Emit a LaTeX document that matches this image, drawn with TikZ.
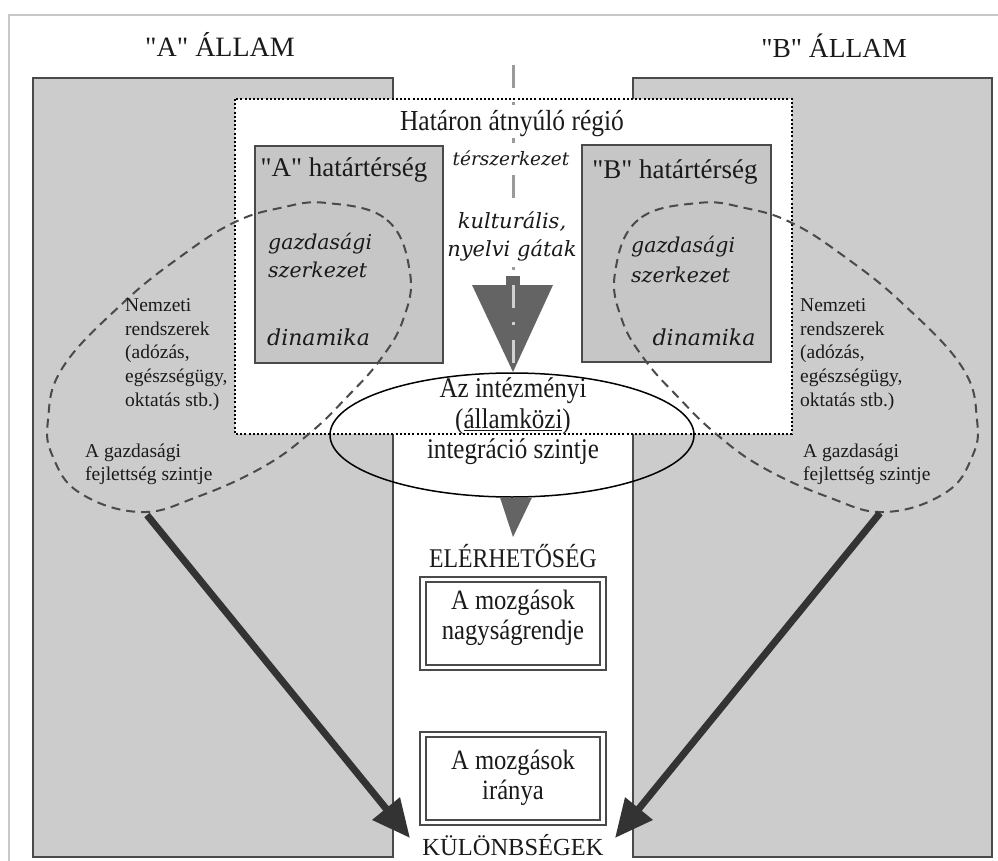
\documentclass[tikz,border=0pt]{standalone}
\usepackage{fontspec}
\setmainfont{Liberation Serif}[Ligatures=TeXOff]
\newfontfamily\cond{Liberation Serif}[Ligatures=TeXOff,FakeStretch=0.88]
\newfontfamily\itf{DejaVu Serif}[Ligatures=TeXOff]
\usetikzlibrary{arrows.meta,shapes.geometric}
\definecolor{stategray}{HTML}{CCCCCC}
\definecolor{boxgray}{HTML}{C6C6C6}
\definecolor{framegray}{HTML}{C8C8C8}
\definecolor{edgec}{HTML}{4A4A4A}
\definecolor{trigray}{HTML}{646464}
\definecolor{dashc}{HTML}{9A9A9A}
\definecolor{dashin}{HTML}{D0D0D0}
\definecolor{arrowc}{HTML}{333333}
\definecolor{txtc}{HTML}{1A1A1A}
\begin{document}
\begin{tikzpicture}[x=1pt,y=-1pt,
  edge/.style={draw=edgec,line width=2.5pt},
  dotborder/.style={draw=black,line width=2.5pt,dash pattern=on 2pt off 2.2pt},
  hbox/.style={fill=boxgray,draw=edgec,line width=2pt,inner sep=0pt},
  dblbox/.style={fill=white,draw=edgec,line width=2pt,inner sep=0pt,minimum width=186pt,minimum height=93pt},
  region/.style={draw=edgec,line width=2pt,dash pattern=on 9pt off 6pt},
  centerdash/.style={line width=3pt,dash pattern=on 23pt off 14pt on 3pt off 15pt},
  bigarrow/.style={draw=arrowc,line width=7pt,-{Triangle[length=38pt,width=34pt]}},
  txt/.style={inner sep=0pt,text=txtc,align=center},
  wtxt/.style={inner sep=1pt,fill=white,text=txtc,align=center},
  ltxt/.style={inner sep=0pt,text=txtc,align=left,anchor=west},
  every node/.append style={text=txtc}]
\useasboundingbox (0,0) rectangle (998,861);
\fill[white] (0,0) rectangle (998,861);
\draw[framegray,line width=2pt] (9,15) rectangle (1010,875);
% state areas
\fill[stategray] (33,78) rectangle (393,857);
\fill[stategray] (633,78) rectangle (992,857);
\draw[edge] (393,99) -- (393,78) -- (33,78) -- (33,857) -- (393,857) -- (393,434);
\draw[edge] (633,99) -- (633,78) -- (992,78) -- (992,857) -- (633,857) -- (633,434);
% cross-border region
\fill[white] (235,99) rectangle (792,434);
\draw[dotborder] (235,99) rectangle (792,434);
% border zones
\node[hbox,minimum width=188pt,minimum height=217pt] (boxA) at (349,254.5) {};
\node[hbox,minimum width=189pt,minimum height=217pt] (boxB) at (676.5,253.5) {};
% centre dashed border line and barrier triangle
\coordinate (cl0) at (513,65);
\coordinate (cl1) at (513,372);
\draw[dashc,centerdash] (cl0) -- (cl1);
\fill[trigray] (472,285) -- (553,285) -- (513,372) -- cycle;
\fill[trigray] (506,276) rectangle (520,286);
\begin{scope}
\clip (472,285) -- (553,285) -- (513,372) -- cycle;
\draw[dashin,centerdash] (cl0) -- (cl1);
\end{scope}
% texts that mask the centre line
\node[wtxt,font=\cond\fontsize{29}{32}\selectfont] (title) at (512,124) {Határon átnyúló régió};
\node[wtxt,font=\itf\itshape\fontsize{18.5}{20}\selectfont] (tsz) at (511,158) {térszerkezet};
\node[wtxt,font=\itf\itshape\fontsize{21}{28}\selectfont] (kult) at (512,236) {kulturális,\\nyelvi gátak};
% national system regions
\draw[region] plot[smooth cycle,tension=0.7] coordinates {(327,203) (387,220) (410,273) (403,320) (380,360) (347,397) (310,433) (263,467) (197,497) (140,512) (80,493) (53,457) (48,420) (63,367) (123,303) (180,257) (233,223) (280,208)};
\begin{scope}[xshift=1025pt,xscale=-1]
\draw[region] plot[smooth cycle,tension=0.7] coordinates {(327,203) (387,220) (410,273) (403,320) (380,360) (347,397) (310,433) (263,467) (197,497) (140,512) (80,493) (53,457) (48,420) (63,367) (123,303) (180,257) (233,223) (280,208)};
\end{scope}
% integration ellipse
\node[draw=black,line width=1.5pt,ellipse,minimum width=364pt,minimum height=124pt,inner sep=0pt] (integ) at (512,435) {};
\fill[trigray] (500,497.5) -- (532,497.5) -- (513,537) -- cycle;
% movement boxes
\node[dblbox] (m1) at (513,623.5) {};
\draw[draw=edgec,line width=2pt] ([shift={(7,6)}]m1.north west) rectangle ([shift={(-7,-6)}]m1.south east);
\node[dblbox] (m2) at (513,778.5) {};
\draw[draw=edgec,line width=2pt] ([shift={(7,6)}]m2.north west) rectangle ([shift={(-7,-6)}]m2.south east);
% arrows
\coordinate (la0) at (147,515);
\coordinate (la1) at (410,838);
\coordinate (ra0) at (880,513);
\coordinate (ra1) at (615,838);
\draw[bigarrow] (la0) -- (la1);
\draw[bigarrow] (ra0) -- (ra1);
% texts
\node[txt,font=\fontsize{28}{30}\selectfont] (tA) at (220,44) {"A" ÁLLAM};
\node[txt,font=\fontsize{27.5}{30}\selectfont] (tB) at (834,46) {"B" ÁLLAM};
\node[txt,font=\fontsize{27}{30}\selectfont] (hA) at (344,170) {"A" határtérség};
\node[txt,font=\fontsize{27}{30}\selectfont] (hB) at (675,172) {"B" határtérség};
\node[ltxt,font=\itf\itshape\fontsize{20.5}{28}\selectfont] (gA) at (268,256) {gazdasági\\szerkezet};
\node[ltxt,font=\itf\itshape\fontsize{22}{28}\selectfont] (dA) at (267,337) {dinamika};
\node[ltxt,font=\itf\itshape\fontsize{20.5}{30}\selectfont] (gB) at (631,260) {gazdasági\\szerkezet};
\node[txt,font=\itf\itshape\fontsize{22}{28}\selectfont] (dB) at (704,337) {dinamika};
\node[ltxt,font=\fontsize{19.5}{23.75}\selectfont] (nA) at (125,354.5) {Nemzeti\\rendszerek\\(adózás,\\egészségügy,\\oktatás stb.)};
\node[ltxt,font=\fontsize{19.5}{23}\selectfont] (fA) at (85,464.5) {A gazdasági\\fejlettség szintje};
\node[ltxt,font=\fontsize{19.5}{23.75}\selectfont] (nB) at (800,354.5) {Nemzeti\\rendszerek\\(adózás,\\egészségügy,\\oktatás stb.)};
\node[ltxt,font=\fontsize{19.5}{23}\selectfont] (fB) at (803,464.5) {A gazdasági\\fejlettség szintje};
\node[txt,font=\cond\fontsize{28.5}{30.5}\selectfont] (itxt) at (513,421.5) {Az intézményi\\(\underline{államközi})\\integráció szintje};
\node[txt,font=\cond\fontsize{27}{30}\selectfont] (elh) at (513,556) {ELÉRHETŐSÉG};
\node[txt,font=\cond\fontsize{28}{30.5}\selectfont] (m1t) at (513,618) {A mozgások\\nagyságrendje};
\node[txt,font=\cond\fontsize{28}{30.5}\selectfont] (m2t) at (513,778) {A mozgások\\iránya};
\node[txt,font=\fontsize{24.5}{28}\selectfont] (kul) at (513,845) {KÜLÖNBSÉGEK};
\end{tikzpicture}
\end{document}
